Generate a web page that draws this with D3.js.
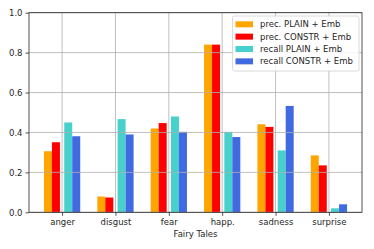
<!DOCTYPE html>
<html>
<head>
<meta charset="utf-8">
<script src="https://cdn.jsdelivr.net/npm/d3@7"></script>
<style>
  body { margin: 0; background: #fff; }
  svg text { font-family: "DejaVu Sans", sans-serif; }
</style>
</head>
<body>
<div id="chart"></div>
<script>
// categories and series
const categories = ["anger", "disgust", "fear", "happ.", "sadness", "surprise"];
const seriesNames = ["prec. PLAIN + Emb", "prec. CONSTR + Emb", "recall PLAIN + Emb", "recall CONSTR + Emb"];
const precPlain = [0.306, 0.079, 0.42, 0.84, 0.441, 0.285];
const precConstr = [0.351, 0.074, 0.447, 0.84, 0.428, 0.235];
const recallPlain = [0.45, 0.467, 0.48, 0.403, 0.31, 0.02];
const recallConstr = [0.381, 0.39, 0.403, 0.377, 0.533, 0.04];
const yTicks = [0, 0.2, 0.4, 0.6, 0.8, 1.0];
const xLabel = "Fairy Tales";

const colors = ["#FFA500", "#FF0000", "#48D1CC", "#4169E1"];
const offsets = [-0.265, -0.115, 0.115, 0.265];
const barWidth = 0.15;
const fontSize = 8.5;

const series = [precPlain, precConstr, recallPlain, recallConstr];

const width = 374, height = 249;
const margin = {left: 29, right: 12, top: 12.7, bottom: 36.7};

const svg = d3.select("#chart").append("svg")
  .attr("width", width)
  .attr("height", height);

const x = d3.scaleLinear()
  .domain([-0.62, categories.length - 1 + 0.62])
  .range([margin.left, width - margin.right]);

const y = d3.scaleLinear()
  .domain([0, 1])
  .range([height - margin.bottom, margin.top]);

// bars
series.forEach((vals, si) => {
  svg.append("g").selectAll("rect")
    .data(vals)
    .enter().append("rect")
      .attr("x", (d, i) => x(i + offsets[si] - barWidth / 2))
      .attr("width", x(barWidth) - x(0))
      .attr("y", d => y(d))
      .attr("height", d => y(0) - y(d))
      .attr("fill", colors[si]);
});

// grid (drawn above the bars, like the reference)
const grid = svg.append("g").attr("stroke", "#b0b0b0").attr("stroke-width", 0.8);
grid.selectAll("line.h")
  .data(yTicks)
  .enter().append("line")
    .attr("x1", x.range()[0]).attr("x2", x.range()[1])
    .attr("y1", d => y(d)).attr("y2", d => y(d));
grid.selectAll("line.v")
  .data(categories)
  .enter().append("line")
    .attr("x1", (d, i) => x(i)).attr("x2", (d, i) => x(i))
    .attr("y1", y.range()[0]).attr("y2", y.range()[1]);

// axes
const yAxis = d3.axisLeft(y)
  .tickValues(yTicks)
  .tickFormat(d3.format(".1f"))
  .tickSize(3.5)
  .tickPadding(3);

const xAxis = d3.axisBottom(x)
  .tickValues(d3.range(categories.length))
  .tickFormat(i => categories[i])
  .tickSize(3.5)
  .tickPadding(3);

const gy = svg.append("g")
  .attr("transform", `translate(${margin.left},0)`)
  .call(yAxis);
const gx = svg.append("g")
  .attr("transform", `translate(0,${y(0)})`)
  .call(xAxis);

[gx, gy].forEach(g => {
  g.attr("font-family", null).attr("font-size", null);
  g.select(".domain").remove();
  g.selectAll("line").attr("stroke", "#262626").attr("stroke-width", 0.8);
  g.selectAll("text").style("font-size", fontSize + "px").attr("fill", "#262626");
});

// frame
svg.append("rect")
  .attr("x", x.range()[0])
  .attr("y", y.range()[1])
  .attr("width", x.range()[1] - x.range()[0])
  .attr("height", y.range()[0] - y.range()[1])
  .attr("fill", "none")
  .attr("stroke", "#262626")
  .attr("stroke-width", 0.8);

// x label
svg.append("text")
  .attr("x", (x.range()[0] + x.range()[1]) / 2)
  .attr("y", 237)
  .attr("text-anchor", "middle")
  .style("font-size", fontSize + "px")
  .attr("fill", "#262626")
  .text(xLabel);

// legend
const legend = svg.append("g").attr("transform", "translate(232.5,16)");
legend.append("rect")
  .attr("width", 126.5)
  .attr("height", 55)
  .attr("rx", 2)
  .attr("fill", "#fff")
  .attr("fill-opacity", 0.85)
  .attr("stroke", "#d0d0d0")
  .attr("stroke-width", 0.8);

const items = legend.selectAll("g.item")
  .data(seriesNames)
  .enter().append("g")
    .attr("transform", (d, i) => `translate(0,${8.3 + i * 12.35})`);
items.append("rect")
  .attr("x", 3)
  .attr("y", -3)
  .attr("width", 17.5)
  .attr("height", 6)
  .attr("fill", (d, i) => colors[i]);
items.append("text")
  .attr("x", 27.5)
  .attr("dy", "0.35em")
  .style("font-size", fontSize + "px")
  .attr("fill", "#262626")
  .text(d => d);
</script>
</body>
</html>
